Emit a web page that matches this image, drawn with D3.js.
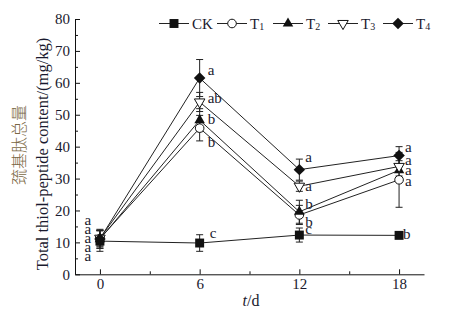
<!DOCTYPE html>
<html>
<head>
<meta charset="utf-8">
<script src="https://cdn.jsdelivr.net/npm/d3@7"></script>
<style>
  body { margin: 0; background: #fff; }
  text { font-family: "Liberation Serif", "DejaVu Serif", serif; }
</style>
</head>
<body>
<div id="chart"></div>
<script>
// sampling days
const days = [0, 6, 12, 18];

// mean values (mg/kg)
const ckValues = [10.4, 9.8, 12.3, 12.2];
const t1Values = [11.2, 45.8, 18.6, 29.6];
const t2Values = [11.0, 48.3, 19.6, 32.6];
const t3Values = [11.3, 54.0, 27.6, 33.8];
const t4Values = [11.1, 61.5, 32.8, 37.2];

// error bar half widths
const ckErrors = [3.2, 2.6, 2.2, 0.4];
const t1Errors = [2.6, 4.0, 3.0, 8.6];
const t2Errors = [2.8, 3.6, 3.6, 1.8];
const t3Errors = [2.4, 3.0, 1.6, 1.8];
const t4Errors = [3.0, 5.8, 3.3, 2.8];

// significance letters
const ckLetters = ["a", "c", "c", "b"];
const t1Letters = ["a", "b", "b", "a"];
const t2Letters = ["a", "b", "b", "a"];
const t3Letters = ["a", "ab", "a", "a"];
const t4Letters = ["a", "a", "a", "a"];

const yTicks = [0, 10, 20, 30, 40, 50, 60, 70, 80];
const xTicks = [0, 6, 12, 18];

const width = 457;
const height = 315;

const series = [
  { name: "CK", sub: "", values: ckValues, errors: ckErrors, letters: ckLetters, shape: "square" },
  { name: "T", sub: "1", values: t1Values, errors: t1Errors, letters: t1Letters, shape: "circle" },
  { name: "T", sub: "2", values: t2Values, errors: t2Errors, letters: t2Letters, shape: "up" },
  { name: "T", sub: "3", values: t3Values, errors: t3Errors, letters: t3Letters, shape: "down" },
  { name: "T", sub: "4", values: t4Values, errors: t4Errors, letters: t4Letters, shape: "diamond" }
];

// letter placement tweaks (pixels) so the labels do not collide, per series and day
const letterOffsets = [
  [[-12, 16], [10, -9], [6, -5], [4, 0]],
  [[-12, 9.5], [8, 15], [6, 8], [6, 2]],
  [[-12, 0], [8, 0], [6, -7], [6, 1]],
  [[-12, -8], [8, -3], [6, 1], [6, -5]],
  [[-12, -17.5], [8, -7], [6, -12], [6, -8]]
];

const x = d3.scaleLinear().domain([-1.5, 19.5]).range([75, 424]);
const y = d3.scaleLinear().domain([0, 80]).range([274.3, 19]);

const svg = d3.select("#chart")
  .append("svg")
  .attr("width", width)
  .attr("height", height);

// axes
svg.append("g")
  .attr("transform", `translate(0,${y(0)})`)
  .call(d3.axisBottom(x).tickValues(xTicks).tickSizeInner(-5).tickSizeOuter(0).tickPadding(4));
svg.append("g")
  .attr("transform", `translate(0,${y(0)})`)
  .call(d3.axisBottom(x).tickValues([3, 9, 15]).tickSizeInner(-3).tickSizeOuter(0).tickFormat(""))
  .select(".domain").remove();

svg.append("g")
  .attr("transform", `translate(${x(-1.5)},0)`)
  .call(d3.axisLeft(y).tickValues(yTicks).tickSizeInner(-5).tickSizeOuter(0).tickPadding(5));
svg.append("g")
  .attr("transform", `translate(${x(-1.5)},0)`)
  .call(d3.axisLeft(y).tickValues(d3.range(5, 80, 10)).tickSizeInner(-3).tickSizeOuter(0).tickFormat(""))
  .select(".domain").remove();

svg.selectAll(".tick text")
  .style("font-size", "15px")
  .style("font-family", "'Liberation Serif', serif")
  .attr("fill", "#1a1a2e");
svg.selectAll(".domain, .tick line").attr("stroke", "#111");

// axis titles
svg.append("text")
  .attr("transform", "translate(48,154) rotate(-90)")
  .attr("text-anchor", "middle")
  .style("font-size", "16.5px")
  .attr("fill", "#1a1a2e")
  .text("Total thiol-peptide content/(mg/kg)");

svg.append("text")
  .attr("transform", "translate(25,145) rotate(-90)")
  .attr("text-anchor", "middle")
  .style("font-size", "16px")
  .style("font-family", "'Noto Sans CJK SC', sans-serif")
  .style("font-weight", "300")
  .attr("fill", "#7a6844")
  .text("巯基肽总量");

const xLabel = svg.append("text")
  .attr("x", 251)
  .attr("y", 306)
  .attr("text-anchor", "middle")
  .style("font-size", "16px")
  .attr("fill", "#1a1a2e");
xLabel.append("tspan").style("font-style", "italic").text("t");
xLabel.append("tspan").text("/d");

// marker drawing
function drawMarker(g, shape) {
  if (shape === "square") {
    g.append("path").attr("d", d3.symbol(d3.symbolSquare, 80)()).attr("fill", "#111");
  } else if (shape === "circle") {
    g.append("circle").attr("r", 4.3).attr("fill", "#fff").attr("stroke", "#111").attr("stroke-width", 1);
  } else if (shape === "up") {
    g.append("path").attr("d", d3.symbol(d3.symbolTriangle, 48)()).attr("fill", "#111");
  } else if (shape === "down") {
    g.append("path").attr("d", d3.symbol(d3.symbolTriangle, 48)())
      .attr("transform", "rotate(180)")
      .attr("fill", "#fff").attr("stroke", "#111").attr("stroke-width", 1);
  } else if (shape === "diamond") {
    g.append("path").attr("d", d3.symbol(d3.symbolSquare, 66)())
      .attr("transform", "rotate(45)").attr("fill", "#111");
  }
}

const line = d3.line()
  .x((d, i) => x(days[i]))
  .y(d => y(d));

// connecting lines
series.forEach(s => {
  svg.append("path")
    .datum(s.values)
    .attr("d", line)
    .attr("fill", "none")
    .attr("stroke", "#222")
    .attr("stroke-width", 1);
});

// error bars
series.forEach(s => {
  const eb = svg.append("g");
  s.values.forEach((v, i) => {
    const cx = x(days[i]);
    const top = y(v + s.errors[i]);
    const bot = y(v - s.errors[i]);
    eb.append("line").attr("x1", cx).attr("x2", cx).attr("y1", top).attr("y2", bot)
      .attr("stroke", "#222").attr("stroke-width", 1);
    [top, bot].forEach(yy => {
      eb.append("line").attr("x1", cx - 3.5).attr("x2", cx + 3.5).attr("y1", yy).attr("y2", yy)
        .attr("stroke", "#222").attr("stroke-width", 1);
    });
  });
});

// markers
series.forEach(s => {
  s.values.forEach((v, i) => {
    const g = svg.append("g").attr("transform", `translate(${x(days[i])},${y(v)})`);
    drawMarker(g, s.shape);
  });
});

// significance letters
series.forEach((s, si) => {
  s.letters.forEach((l, i) => {
    const off = letterOffsets[si][i];
    svg.append("text")
      .attr("x", x(days[i]) + off[0])
      .attr("y", y(s.values[i]) + off[1] + 4)
      .attr("text-anchor", i === 0 ? "middle" : "start")
      .style("font-size", "15px")
      .attr("fill", "#1a1a2e")
      .text(l);
  });
});

// legend
const legendX = [159, 217, 273, 328, 383];
const legendY = 23.5;
series.forEach((s, i) => {
  const g = svg.append("g").attr("transform", `translate(${legendX[i]},${legendY})`);
  g.append("line").attr("x1", 0).attr("x2", 30).attr("y1", 0).attr("y2", 0)
    .attr("stroke", "#222").attr("stroke-width", 1);
  const m = g.append("g").attr("transform", "translate(15,0)");
  drawMarker(m, s.shape);
  const t = g.append("text")
    .attr("x", 33)
    .attr("y", 5.5)
    .style("font-size", "15px")
    .attr("fill", "#1a1a2e");
  t.append("tspan").text(s.name);
  if (s.sub) {
    t.append("tspan").style("font-size", "10px").attr("dy", 1).text(s.sub);
  }
});
</script>
</body>
</html>
